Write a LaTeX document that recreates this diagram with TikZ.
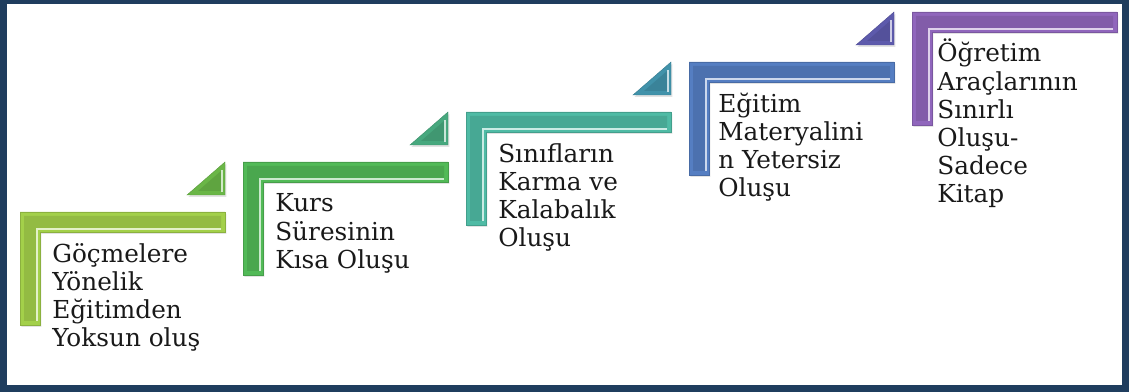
\documentclass[tikz,border=0pt]{standalone}
\usepackage{fontspec}
\setmainfont{DejaVu Serif}
\usetikzlibrary{shadows}
\definecolor{frameblue}{HTML}{1F3D5E}
\definecolor{stepA}{HTML}{A3D04A}
\definecolor{stepB}{HTML}{52BA57}
\definecolor{stepC}{HTML}{4FBBA5}
\definecolor{stepD}{HTML}{557EC2}
\definecolor{stepE}{HTML}{9066BC}
\definecolor{triA}{HTML}{6AB647}
\definecolor{triB}{HTML}{47A87E}
\definecolor{triC}{HTML}{4192AA}
\definecolor{triD}{HTML}{5D5AAC}
\tikzset{bar/.style={fill=#1,draw=#1!85!black,line width=0.3pt,
  drop shadow={opacity=0.22,shadow xshift=1pt,shadow yshift=-1.3pt}}}
\tikzset{face/.style={fill=#1!90!black,draw=none}}
\tikzset{shine/.style={draw=#1!30!white,line width=1.4pt,line join=miter}}
\tikzset{steptext/.style={anchor=base west,align=left,inner sep=0pt,
  font=\fontsize{17.6}{20}\selectfont,text=black!90}}

\begin{document}
\begin{tikzpicture}[x=0.025cm,y=-0.025cm]
        \useasboundingbox (0,0) rectangle (1129,392);
        \draw[frameblue,line width=5pt] (3.5,0.5) rectangle (1125.5,388.5);

        % step 1
        \draw[bar=stepA] (20,212) -- ++(205,0) -- ++(0,20) -- ++(-185,0) -- ++(0,93) -- ++(-20,0) -- cycle;
        \fill[face=stepA] (24,216) -- ++(197,0) -- ++(0,12) -- ++(-185,0) -- ++(0,93) -- ++(-12,0) -- cycle;
        \draw[shine=stepA] (221,229) -- (37,229) -- (37,321);
        \draw[bar=triA] (187,195) -- (225,162) -- (225,195) -- cycle;
        \fill[face=triA] (198,191) -- (221,171) -- (221,191) -- cycle;
        \draw[shine=triA] (222,170) -- (222,192);
        \node[steptext] (goc) at (52,346.4) {Göçmelere\\Yönelik\\Eğitimden\\Yoksun oluş};

        % step 2
        \draw[bar=stepB] (243,162) -- ++(205,0) -- ++(0,20) -- ++(-185,0) -- ++(0,93) -- ++(-20,0) -- cycle;
        \fill[face=stepB] (247,166) -- ++(197,0) -- ++(0,12) -- ++(-185,0) -- ++(0,93) -- ++(-12,0) -- cycle;
        \draw[shine=stepB] (444,179) -- (260,179) -- (260,271);
        \draw[bar=triB] (410,145) -- (448,112) -- (448,145) -- cycle;
        \fill[face=triB] (421,141) -- (444,121) -- (444,141) -- cycle;
        \draw[shine=triB] (445,120) -- (445,142);
        \node[steptext] (kurs) at (275,268.2) {Kurs\\Süresinin\\Kısa Oluşu};

        % step 3
        \draw[bar=stepC] (466,112) -- ++(205,0) -- ++(0,20) -- ++(-185,0) -- ++(0,93) -- ++(-20,0) -- cycle;
        \fill[face=stepC] (470,116) -- ++(197,0) -- ++(0,12) -- ++(-185,0) -- ++(0,93) -- ++(-12,0) -- cycle;
        \draw[shine=stepC] (667,129) -- (483,129) -- (483,221);
        \draw[bar=triC] (633,95) -- (671,62) -- (671,95) -- cycle;
        \fill[face=triC] (644,91) -- (667,71) -- (667,91) -- cycle;
        \draw[shine=triC] (668,70) -- (668,92);
        \node[steptext] (sinif) at (498,246.4) {Sınıfların\\Karma ve\\Kalabalık\\Oluşu};

        % step 4
        \draw[bar=stepD] (689,62) -- ++(205,0) -- ++(0,20) -- ++(-185,0) -- ++(0,93) -- ++(-20,0) -- cycle;
        \fill[face=stepD] (693,66) -- ++(197,0) -- ++(0,12) -- ++(-185,0) -- ++(0,93) -- ++(-12,0) -- cycle;
        \draw[shine=stepD] (890,79) -- (706,79) -- (706,171);
        \draw[bar=triD] (856,45) -- (894,12) -- (894,45) -- cycle;
        \fill[face=triD] (867,41) -- (890,21) -- (890,41) -- cycle;
        \draw[shine=triD] (891,20) -- (891,42);
        \node[steptext] (materyal) at (718,196.4) {Eğitim\\Materyalini\\n Yetersiz\\Oluşu};

        % step 5
        \draw[bar=stepE] (912,12) -- ++(205,0) -- ++(0,20) -- ++(-185,0) -- ++(0,93) -- ++(-20,0) -- cycle;
        \fill[face=stepE] (916,16) -- ++(197,0) -- ++(0,12) -- ++(-185,0) -- ++(0,93) -- ++(-12,0) -- cycle;
        \draw[shine=stepE] (1113,29) -- (929,29) -- (929,121);
        \node[steptext] (arac) at (937,202.6) {Öğretim\\Araçlarının\\Sınırlı\\Oluşu-\\Sadece\\Kitap};
    \end{tikzpicture}
\end{document}
